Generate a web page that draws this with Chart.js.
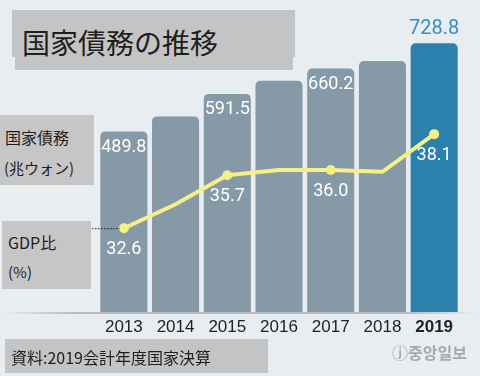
<!DOCTYPE html>
<html>
<head>
<meta charset="utf-8">
<script src="https://cdn.jsdelivr.net/npm/chart.js@4"></script>
<style>
  body { margin: 0; background: #e8edf1; }
  #wrap { position: relative; width: 480px; height: 376px; background: #e8edf1; overflow: hidden; }
  #wrap canvas { position: absolute; left: 0; top: 0; }
  .box { position: absolute; background: #c4c4c4; }
  .txt { position: absolute; color: #1e1e1e; white-space: nowrap; font-family: "Noto Sans CJK JP", sans-serif; }
</style>
</head>
<body>
<div id="wrap">
  <div class="box" style="left:12px;top:10px;width:283px;height:47px;"></div>
  <div class="box" style="left:15px;top:10px;width:278px;height:60px;"></div>
  <div class="txt" style="left:22px;top:22px;font-size:28px;line-height:40px;">国家債務の推移</div>

  <div class="box" style="left:0;top:115px;width:94px;height:70px;background:#c6c6c6;"></div>
  <div class="txt" style="left:5px;top:126px;font-size:16px;line-height:22px;">国家債務</div>
  <div class="txt" style="left:4px;top:157px;font-size:15px;line-height:22px;">(兆ウォン)</div>

  <div class="box" style="left:2px;top:221px;width:89px;height:68px;background:#c6c6c6;"></div>
  <div class="txt" style="left:8px;top:231px;font-size:16px;line-height:22px;">GDP比</div>
  <div class="txt" style="left:8px;top:261px;font-size:15px;line-height:22px;">(%)</div>

  <canvas id="chart_nationalDebt"></canvas>

  <div class="box" style="left:5px;top:339px;width:263px;height:34px;"></div>
  <div class="txt" style="left:11px;top:345px;font-size:16px;line-height:24px;">資料:2019会計年度国家決算</div>
  <div class="txt" style="left:392px;top:341px;font-size:16px;line-height:22px;color:#a8a8a8;font-weight:bold;font-family:'Noto Sans CJK KR',sans-serif;">ⓙ중앙일보</div>
</div>
<script>
var years = ['2013', '2014', '2015', '2016', '2017', '2018', '2019'];
var debtValues = [489.8, 530.5, 591.5, 627.4, 660.2, 680.5, 728.8];
var gdpRatio = [32.6, 34.0, 35.7, 36.0, 36.0, 35.9, 38.1];
var debtLabelShown = [true, false, true, false, true, false, true];
var ratioLabelShown = [true, false, true, false, true, false, true];

var barColors = years.map(function(y, i) { return i === years.length - 1 ? '#2b80ac' : '#8599a6'; });
var pointSizes = ratioLabelShown.map(function(s) { return s ? 5 : 0; });

var valueLabels = {
    id: 'valueLabels',
    afterDatasetsDraw: function(chart) {
        var ctx = chart.ctx;
        ctx.save();
        ctx.textAlign = 'center';
        ctx.textBaseline = 'middle';

        // dotted leader from the GDP label box to the first point
        var first = chart.getDatasetMeta(1).data[0];
        ctx.strokeStyle = '#222';
        ctx.lineWidth = 1;
        ctx.setLineDash([1.5, 1.5]);
        ctx.beginPath();
        ctx.moveTo(chart.chartArea.left - 6, first.y + 0.5);
        ctx.lineTo(first.x - 4, first.y + 0.5);
        ctx.stroke();
        ctx.setLineDash([]);

        var bars = chart.getDatasetMeta(0).data;
        bars.forEach(function(bar, i) {
            if (!debtLabelShown[i]) return;
            var last = i === bars.length - 1;
            ctx.font = (last ? '20px' : '18px') + ' Roboto';
            ctx.fillStyle = last ? '#3a8ec2' : '#ffffff';
            ctx.fillText(debtValues[i].toFixed(1), bar.x, last ? bar.y - 14 : bar.y + 16);
        });

        var pts = chart.getDatasetMeta(1).data;
        pts.forEach(function(pt, i) {
            if (!ratioLabelShown[i]) return;
            ctx.font = '18px Roboto';
            ctx.fillStyle = '#ffffff';
            ctx.fillText(gdpRatio[i].toFixed(1), pt.x, pt.y + 21);
        });
        ctx.restore();
    }
};

var baseShadow = {
    id: 'baseShadow',
    beforeDatasetsDraw: function(chart) {
        var ctx = chart.ctx;
        var y = chart.chartArea.bottom;
        var g = ctx.createLinearGradient(0, 0, chart.width, 0);
        g.addColorStop(0, 'rgba(120,130,140,0)');
        g.addColorStop(0.15, 'rgba(120,130,140,0.45)');
        g.addColorStop(0.85, 'rgba(120,130,140,0.45)');
        g.addColorStop(1, 'rgba(120,130,140,0)');
        ctx.save();
        ctx.fillStyle = g;
        ctx.fillRect(4, y, chart.width - 8, 2);
        ctx.restore();
    }
};

var chart_nationalDebt = new Chart(document.getElementById('chart_nationalDebt'), {
    data: {
        labels: years,
        datasets: [
            {
                type: 'bar',
                label: '国家債務',
                data: debtValues,
                backgroundColor: barColors,
                borderRadius: 5,
                borderSkipped: 'start',
                barPercentage: 0.91,
                categoryPercentage: 1,
                yAxisID: 'y',
                order: 2
            },
            {
                type: 'line',
                label: 'GDP比',
                data: gdpRatio,
                borderColor: '#f6ef86',
                backgroundColor: '#f6ef86',
                borderWidth: 4,
                pointRadius: pointSizes,
                pointHoverRadius: pointSizes,
                pointBorderWidth: 0,
                tension: 0,
                yAxisID: 'y2',
                order: 1
            }
        ]
    },
    options: {
        animation: false,
        responsive: true,
        maintainAspectRatio: false,
        layout: {
            padding: { left: 98, right: 20, top: 17, bottom: 0 }
        },
        plugins: {
            legend: { display: false },
            title: { display: false },
            tooltip: { enabled: false }
        },
        scales: {
            x: {
                type: 'category',
                grid: { display: false, drawTicks: false },
                border: { display: false },
                ticks: {
                    padding: 5,
                    color: '#222',
                    font: function(context) {
                        return {
                            family: 'Liberation Sans',
                            size: 17,
                            weight: context.index === years.length - 1 ? 'bold' : 'normal'
                        };
                    }
                },
                afterFit: function(scale) { scale.height = 64; }
            },
            y: {
                type: 'linear',
                display: false,
                min: 0,
                max: 800
            },
            y2: {
                type: 'linear',
                display: false,
                min: 27.7,
                max: 44.95
            }
        }
    },
    plugins: [valueLabels, baseShadow]
});
</script>
</body>
</html>
